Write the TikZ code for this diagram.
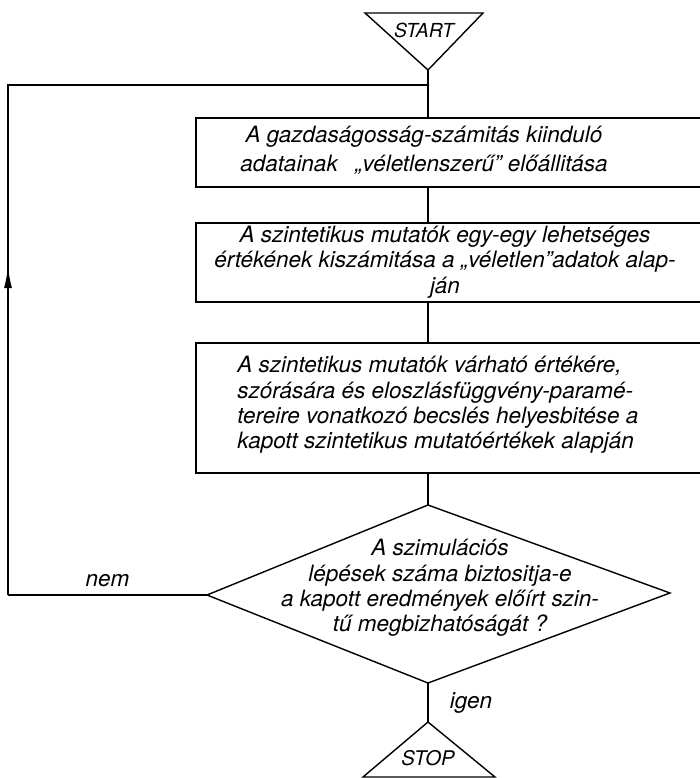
\documentclass[tikz,border=0pt]{standalone}
\usepackage{fontspec}
\setmainfont{TeX Gyre Heros}
\usetikzlibrary{fit}
\usetikzlibrary{arrows.meta}

\begin{document}
\begin{tikzpicture}[x=0.02cm, y=-0.02cm,
    box/.style={draw, line width=1.3pt, inner sep=0pt},
    flow/.style={line width=0.8pt},
    txt/.style={font=\itshape\fontsize{12.8}{14.4}\selectfont, inner sep=0pt}]
    \useasboundingbox (0,0) rectangle (700,778);
    \clip (0,0) rectangle (700,778);

    % start
    \path (365,13) coordinate (sl) (483,13) coordinate (sr) (428,70) coordinate (sa);
    \draw [flow] (sl) -- (sr) -- (sa) -- cycle;
    \path (424,30) node [txt, font=\itshape\fontsize{11}{13}\selectfont] (start) {START};

    % steps
    \node [box, fit={(196,118) (720,187)}] (b1) {};
    \path (424,150) node [txt, align=center, font=\itshape\fontsize{12.8}{16.5}\selectfont] (t1)
        {A gazdaságosság-számitás kiinduló\\adatainak \enspace„véletlenszerű” előállitása};
    \node [box, fit={(196,223) (720,302)}] (b2) {};
    \path (445,262) node [txt, align=center] (t2)
        {A szintetikus mutatók egy-egy lehetséges\\értékének kiszámitása a „véletlen”adatok alap-\\ján};
    \node [box, fit={(196,343) (720,473)}] (b3) {};
    \path (237,405) node [txt, align=left, anchor=west] (t3)
        {A szintetikus mutatók várható értékére,\\szórására és eloszlásfüggvény-paramé-\\tereire vonatkozó becslés helyesbitése a\\kapott szintetikus mutatóértékek alapján};

    % decision
    \path (428,505) coordinate (dt) (670,593) coordinate (dr)
          (428,683) coordinate (db) (207,595) coordinate (dl);
    \draw [flow] (dt) -- (dr) -- (db) -- (dl) -- cycle;
    \path (440,588) node [txt, align=center] (q)
        {A szimulációs\\lépések száma biztositja-e\\a kapott eredmények előírt szin-\\tű megbizhatóságát ?};

    % stop
    \path (428,722) coordinate (pa) (363,777) coordinate (pl) (495,777) coordinate (pr);
    \draw [flow] (pa) -- (pr) -- (pl) -- cycle;
    \path (428,758) node [txt, font=\itshape\fontsize{11.5}{14}\selectfont] (stop) {STOP};

    % connectors
    \draw [flow] (sa) -- (sa |- b1.north);
    \draw [flow] (sa |- b1.south) -- (sa |- b2.north);
    \draw [flow] (sa |- b2.south) -- (sa |- b3.north);
    \draw [flow] (sa |- b3.south) -- (dt);
    \draw [flow] (db) -- (pa) node [midway, right=12pt, txt] {igen};

    % back loop
    \path (8,595) coordinate (lb) (8,85) coordinate (lt);
    \draw [flow] (dl) -- (lb) node [midway, above=4pt, txt] {nem};
    \draw [flow] (lb) -- (lt) -- (sa |- lt);
    \draw [flow, -{Latex[length=12pt, width=4.5pt]}] (lb) -- (8,267);
\end{tikzpicture}
\end{document}
